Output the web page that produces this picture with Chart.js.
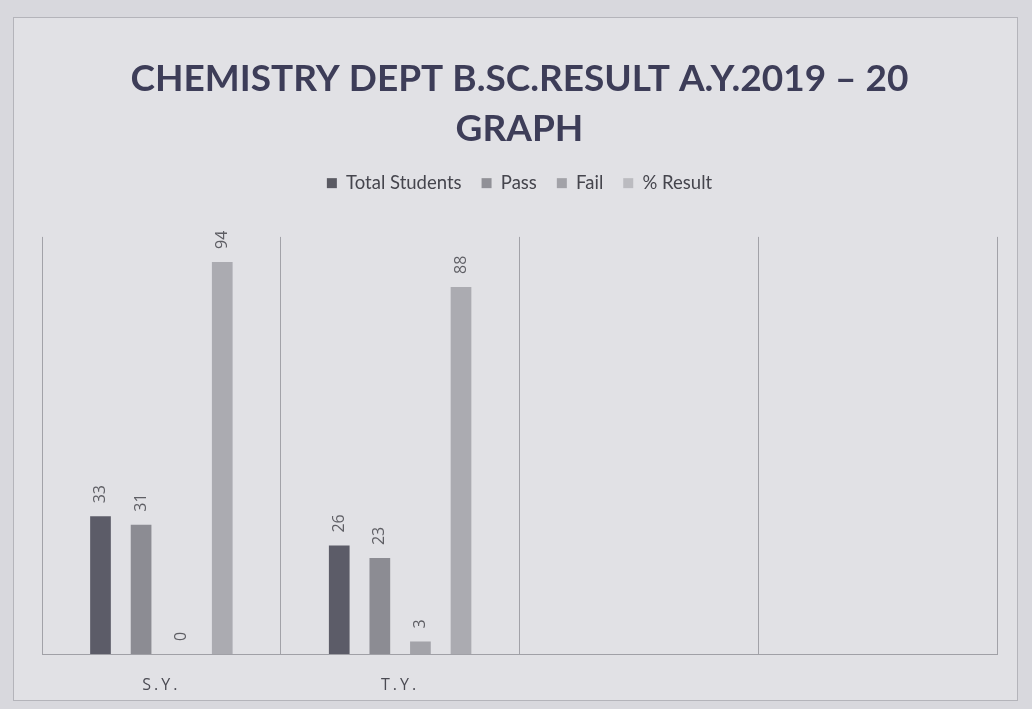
<!DOCTYPE html>
<html>
<head>
<meta charset="utf-8">
<script src="https://cdn.jsdelivr.net/npm/chart.js@4.4.1/dist/chart.umd.min.js"></script>
<style>
  html, body { margin: 0; padding: 0; }
  body { width: 1032px; height: 709px; background: #d8d8dd; position: relative; overflow: hidden; }
  #frame {
    position: absolute; left: 13px; top: 17px; width: 1005px; height: 684px;
    border: 1px solid #b4b4ba; background: #e1e1e5; box-sizing: border-box;
  }
  #frame canvas { display: block; }
</style>
</head>
<body>
<div id="frame"><canvas id="chart" width="1003" height="682"></canvas></div>
<script>
// Class-wise result figures
const categories = ['S.Y.', 'T.Y.', '', ''];
const totalStudents = [33, 26, null, null];
const pass = [31, 23, null, null];
const fail = [0, 3, null, null];
const percentResult = [94, 88, null, null];
const seriesNames = ['Total Students', 'Pass', 'Fail', '% Result'];

const barColors = ['#5c5c68', '#8c8c93', '#a3a3a9', '#ababb1'];
const legendColors = ['#5a5a63', '#909097', '#a2a2a8', '#bbbbc0'];

// Writes each bar's value rotated upright above its top edge,
// then widens the letter spacing for the category labels drawn next
const barValueLabels = {
  id: 'barValueLabels',
  afterDatasetsDraw(chart) {
    const ctx = chart.ctx;
    ctx.save();
    ctx.font = '16px "Open Sans", sans-serif';
    ctx.fillStyle = '#5e5e64';
    ctx.textAlign = 'left';
    ctx.textBaseline = 'middle';
    chart.data.datasets.forEach((ds, i) => {
      const meta = chart.getDatasetMeta(i);
      meta.data.forEach((bar, j) => {
        const v = ds.data[j];
        if (v === null || v === undefined) return;
        ctx.save();
        ctx.translate(bar.x, bar.y - 13);
        ctx.rotate(-Math.PI / 2);
        ctx.fillText(String(v), 0, 0);
        ctx.restore();
      });
    });
    ctx.restore();
    ctx.letterSpacing = '3px';
  },
  afterDraw(chart) {
    chart.ctx.letterSpacing = '0px';
  }
};

// Leaves a gap between the legend row and the plot
const legendGap = {
  id: 'legendGap',
  beforeLayout(chart) {
    const lg = chart.legend;
    if (lg && !lg.__gapWrapped) {
      const fit = lg.fit;
      lg.fit = function () {
        fit.call(this);
        this.height = 83;
      };
      lg.__gapWrapped = true;
    }
  }
};

const values = [totalStudents, pass, fail, percentResult];

new Chart(document.getElementById('chart'), {
  type: 'bar',
  data: {
    labels: categories,
    datasets: seriesNames.map((name, i) => ({
      label: name,
      data: values[i],
      backgroundColor: barColors[i],
      borderWidth: 0,
      categoryPercentage: 0.68,
      barPercentage: 0.51
    }))
  },
  options: {
    responsive: false,
    animation: false,
    layout: { padding: { left: 28, right: 20, top: 8, bottom: 0 } },
    plugins: {
      title: {
        display: true,
        text: ['CHEMISTRY DEPT B.SC.RESULT A.Y.2019 \u2013 20', 'GRAPH'],
        color: '#3d3d58',
        font: { family: 'Lato, "Open Sans", sans-serif', size: 37, weight: 'bold', lineHeight: 1.35 },
        padding: { top: 28, bottom: 0 }
      },
      legend: {
        position: 'top',
        labels: {
          color: '#45454d',
          font: { family: 'Lato, "Open Sans", sans-serif', size: 18.5 },
          boxWidth: 10,
          boxHeight: 10,
          padding: 20,
          generateLabels(chart) {
            return chart.data.datasets.map((ds, i) => ({
              text: ds.label,
              fillStyle: legendColors[i],
              strokeStyle: legendColors[i],
              lineWidth: 0,
              hidden: false,
              datasetIndex: i,
              fontColor: '#45454d'
            }));
          }
        }
      },
      tooltip: { enabled: false }
    },
    scales: {
      x: {
        grid: { display: true, offset: true, color: '#a2a2a8', lineWidth: 1, drawTicks: false },
        border: { display: true, color: '#a0a0a6' },
        ticks: { color: '#4a4a52', font: { family: '"Open Sans", sans-serif', size: 16 }, padding: 22, z: 1 },
        afterFit(scale) { scale.height = 46; }
      },
      y: {
        display: false,
        min: 0,
        max: 100
      }
    }
  },
  plugins: [barValueLabels, legendGap]
});
</script>
</body>
</html>
